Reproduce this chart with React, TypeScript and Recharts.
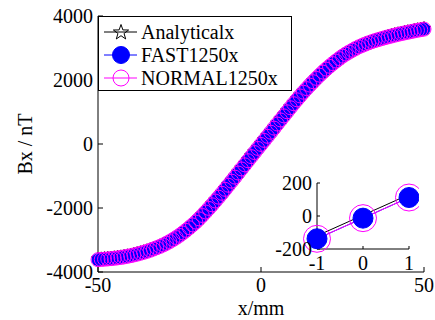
import React from 'react';
import { LineChart, Line, XAxis, YAxis } from 'recharts';

// sample positions along x (mm)
const xMm = [
  -50, -49, -48, -47, -46, -45, -44, -43, -42, -41, -40, -39, -38, -37, -36, -35, -34,
  -33, -32, -31, -30, -29, -28, -27, -26, -25, -24, -23, -22, -21, -20, -19, -18, -17,
  -16, -15, -14, -13, -12, -11, -10, -9, -8, -7, -6, -5, -4, -3, -2, -1, 0,
  1, 2, 3, 4, 5, 6, 7, 8, 9, 10, 11, 12, 13, 14, 15, 16, 17, 18, 19, 20, 21, 22, 23, 24,
  25, 26, 27, 28, 29, 30, 31, 32, 33, 34, 35, 36, 37, 38, 39, 40, 41, 42, 43, 44, 45,
  46, 47, 48, 49, 50,
];

const analytical = [
  -3597, -3590, -3582, -3574, -3565, -3554,
  -3541, -3527, -3511, -3493, -3472,
  -3449, -3424, -3397, -3368, -3337,
  -3302, -3264, -3224, -3182, -3137,
  -3086, -3030, -2970, -2905, -2837,
  -2762, -2682, -2598, -2511, -2422,
  -2321, -2216, -2107, -1995, -1882,
  -1764, -1644, -1523, -1399, -1272,
  -1144, -1017, -889, -761, -632,
  -504, -376, -249, -120, 5,
  130, 258, 386, 514, 643,
  770, 897, 1024, 1151, 1278,
  1400, 1519, 1636, 1749, 1858,
  1964, 2068, 2168, 2265, 2358,
  2446, 2530, 2610, 2688, 2763,
  2828, 2889, 2947, 3002, 3053,
  3098, 3140, 3179, 3216, 3250,
  3281, 3311, 3339, 3366, 3392,
  3418, 3443, 3466, 3488, 3508,
  3530, 3551, 3571, 3590, 3608,
];

const fast1250 = [
  -3615, -3608, -3600, -3592, -3583, -3572,
  -3559, -3545, -3529, -3511, -3490,
  -3467, -3442, -3415, -3386, -3355,
  -3320, -3282, -3242, -3200, -3155,
  -3104, -3048, -2988, -2923, -2855,
  -2780, -2700, -2616, -2529, -2440,
  -2339, -2234, -2125, -2013, -1900,
  -1782, -1662, -1541, -1417, -1290,
  -1162, -1035, -907, -779, -650,
  -522, -394, -267, -138, -13,
  112, 240, 368, 496, 625,
  752, 879, 1006, 1133, 1260,
  1382, 1501, 1618, 1731, 1840,
  1946, 2050, 2150, 2247, 2340,
  2428, 2512, 2592, 2670, 2745,
  2810, 2871, 2929, 2984, 3035,
  3080, 3122, 3161, 3198, 3232,
  3263, 3293, 3321, 3348, 3374,
  3400, 3425, 3448, 3470, 3490,
  3512, 3533, 3553, 3572, 3590,
];

// NORMAL sits exactly on top of FAST in the plot
const normal1250 = fast1250;

const xTicks = [-50, 0, 50];
const yTicks = [-4000, -2000, 0, 2000, 4000];
const insetXTicks = [-1, 0, 1];
const insetYTicks = [-200, 0, 200];

const rows = xMm.map((x, i) => ({
  x,
  analytical: analytical[i],
  fast: fast1250[i],
  normal: normal1250[i],
}));
const insetRows = rows.filter((r) => r.x >= -1 && r.x <= 1);

const FONT = '"Liberation Serif", "Times New Roman", "DejaVu Serif", serif';
const BLUE = '#0000ff';
const MAGENTA = '#ff00ff';

const starPoints = (cx: number, cy: number, R: number) => {
  const pts: string[] = [];
  for (let k = 0; k < 10; k++) {
    const r = k % 2 === 0 ? R : R * 0.4;
    const a = -Math.PI / 2 + (k * Math.PI) / 5;
    pts.push(`${cx + r * Math.cos(a)},${cy + r * Math.sin(a)}`);
  }
  return pts.join(' ');
};

const starDot = (R: number) => (props: any) => {
  const { cx, cy, index } = props;
  if (cx == null || cy == null) return <g key={`s-${index}`} />;
  return (
    <polygon
      key={`s-${index}`}
      points={starPoints(cx, cy, R)}
      fill="none"
      stroke="#000"
      strokeWidth={1}
    />
  );
};

const tickStyle = { fill: '#000', fontSize: 20, fontFamily: FONT };

const legendItems = [
  { name: 'Analyticalx', color: '#000', marker: 'star' },
  { name: 'FAST1250x', color: BLUE, marker: 'filled' },
  { name: 'NORMAL1250x', color: MAGENTA, marker: 'open' },
];

const LegendBox = () => (
  <div
    style={{
      position: 'absolute',
      left: 98,
      top: 16,
      width: 194,
      height: 75,
      boxSizing: 'border-box',
      border: '1px solid #000',
      background: '#fff',
      fontFamily: FONT,
      fontSize: 20,
      color: '#000',
    }}
  >
    {legendItems.map((it, i) => (
      <div
        key={it.name}
        style={{ position: 'absolute', left: 0, top: 4 + i * 23, height: 22, display: 'flex', alignItems: 'center' }}
      >
        <svg width={40} height={22} style={{ display: 'block' }}>
          <line x1={5} x2={38} y1={11} y2={11} stroke={it.color} strokeWidth={1} />
          {it.marker === 'star' && (
            <polygon points={starPoints(22, 11.5, 8)} fill="none" stroke="#000" strokeWidth={1} />
          )}
          {it.marker === 'filled' && <circle cx={22} cy={11} r={8.5} fill={BLUE} stroke={BLUE} />}
          {it.marker === 'open' && <circle cx={22} cy={11} r={8} fill="none" stroke={MAGENTA} />}
        </svg>
        <span style={{ marginLeft: 2, lineHeight: '22px', whiteSpace: 'nowrap', fontFamily: FONT }}>{it.name}</span>
      </div>
    ))}
  </div>
);

const YLabel = (props: any) => {
  const vb = props.viewBox || {};
  const cy = (vb.y || 0) + (vb.height || 0) / 2;
  return (
    <text
      x={25}
      y={cy}
      transform={`rotate(-90 25 ${cy})`}
      textAnchor="middle"
      dominantBaseline="central"
      fill="#000"
      fontSize={20}
      style={{ fontFamily: FONT }}
    >
      Bx / nT
    </text>
  );
};

const App: React.FC = () => {
  return (
    <div style={{ position: 'fixed', left: 0, top: 0, width: 435, height: 320, background: '#fff', fontFamily: FONT }}>
      <LineChart width={435} height={320} data={rows} margin={{ top: 16, right: 11, left: 0, bottom: 0 }} style={{ fontFamily: FONT }}>
        <XAxis
          dataKey="x"
          type="number"
          domain={[-50, 50]}
          ticks={xTicks}
          interval={0}
          height={48}
          tickSize={-5}
          tickMargin={11}
          stroke="#000"
          tick={tickStyle}
          label={{ value: 'x/mm', position: 'insideBottom', offset: 5, fill: '#000', fontSize: 20, fontFamily: FONT }}
        />
        <XAxis
          xAxisId="top"
          orientation="top"
          type="number"
          domain={[-50, 50]}
          ticks={xTicks}
          height={0}
          tickSize={-5}
          tick={false}
          stroke="#000"
        />
        <YAxis
          type="number"
          domain={[-4000, 4000]}
          ticks={yTicks}
          interval={0}
          width={98}
          tickSize={-5}
          tickMargin={10}
          stroke="#000"
          tick={tickStyle}
          label={<YLabel />}
        />
        <YAxis
          yAxisId="right"
          orientation="right"
          type="number"
          domain={[-4000, 4000]}
          ticks={yTicks}
          width={0}
          tickSize={-5}
          tick={false}
          stroke="#000"
        />
        <Line
          dataKey="analytical"
          type="linear"
          stroke="#000"
          strokeWidth={1}
          dot={starDot(7)}
          isAnimationActive={false}
        />
        <Line
          dataKey="fast"
          type="linear"
          stroke={BLUE}
          strokeWidth={1}
          dot={{ r: 6, fill: BLUE, stroke: BLUE, strokeWidth: 1 }}
          isAnimationActive={false}
        />
        <Line
          dataKey="normal"
          type="linear"
          stroke={MAGENTA}
          strokeWidth={1}
          dot={{ r: 7, fill: 'none', stroke: MAGENTA, strokeWidth: 1 }}
          isAnimationActive={false}
        />
      </LineChart>

      <LegendBox />

      <div style={{ position: 'absolute', left: 267, top: 173 }}>
        <LineChart width={152} height={106} data={insetRows} margin={{ top: 10, right: 10, left: 0, bottom: 0 }} style={{ fontFamily: FONT }}>
          <XAxis
            dataKey="x"
            type="number"
            domain={[-1, 1]}
            ticks={insetXTicks}
            interval={0}
            height={30}
            tickSize={-3}
            tickMargin={10}
            stroke="#000"
            tick={tickStyle}
          />
          <XAxis
            xAxisId="top"
            orientation="top"
            type="number"
            domain={[-1, 1]}
            ticks={insetXTicks}
            height={0}
            tickSize={-3}
            tick={false}
            stroke="#000"
          />
          <YAxis
            type="number"
            domain={[-200, 200]}
            ticks={insetYTicks}
            interval={0}
            width={50}
            tickSize={-3}
            tickMargin={8}
            stroke="#000"
            tick={tickStyle}
          />
          <YAxis
            yAxisId="right"
            orientation="right"
            type="number"
            domain={[-200, 200]}
            ticks={insetYTicks}
            width={0}
            tickSize={-3}
            tick={false}
            stroke="#000"
          />
          <Line
            dataKey="analytical"
            type="linear"
            stroke="#000"
            strokeWidth={1}
            dot={starDot(7)}
            isAnimationActive={false}
          />
          <Line
            dataKey="fast"
            type="linear"
            stroke={BLUE}
            strokeWidth={1}
            dot={{ r: 10, fill: BLUE, stroke: BLUE, strokeWidth: 1 }}
            isAnimationActive={false}
          />
          <Line
            dataKey="normal"
            type="linear"
            stroke={MAGENTA}
            strokeWidth={1}
            dot={{ r: 13.5, fill: 'none', stroke: MAGENTA, strokeWidth: 1 }}
            isAnimationActive={false}
          />
        </LineChart>
      </div>
    </div>
  );
};

export default App;
